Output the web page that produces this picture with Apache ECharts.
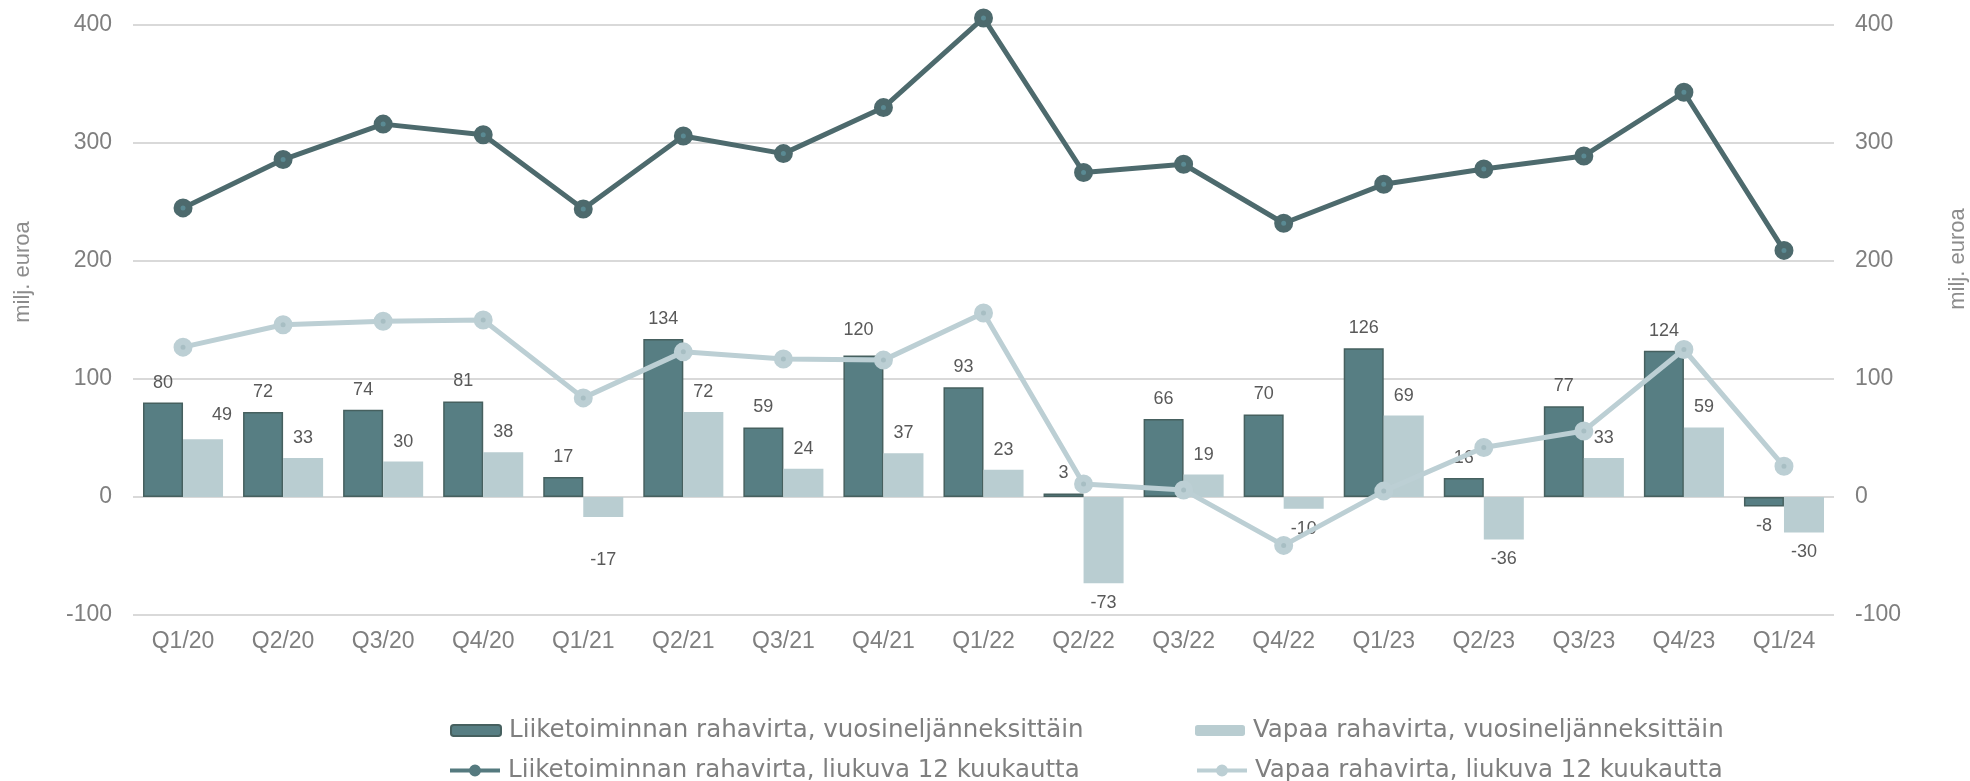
<!DOCTYPE html>
<html>
<head>
<meta charset="utf-8">
<title>Rahavirta</title>
<script src="https://cdn.jsdelivr.net/npm/echarts@6/dist/echarts.min.js"></script>
<style>
html, body { margin: 0; padding: 0; background: #fff; }
#chart { width: 1970px; height: 781px; }
</style>
</head>
<body>
<div id="chart"></div>
<script>
var categories = ['Q1/20', 'Q2/20', 'Q3/20', 'Q4/20', 'Q1/21', 'Q2/21', 'Q3/21', 'Q4/21', 'Q1/22',
  'Q2/22', 'Q3/22', 'Q4/22', 'Q1/23', 'Q2/23', 'Q3/23', 'Q4/23', 'Q1/24'];
var opQuarter = [80, 72, 74, 81, 17, 134, 59, 120, 93, 3, 66, 70, 126, 16, 77, 124, -8];
var freeQuarter = [49, 33, 30, 38, -17, 72, 24, 37, 23, -73, 19, -10, 69, -36, 33, 59, -30];
var opRolling = [245, 286, 316, 307, 244, 306, 291, 330, 406, 275, 282, 232, 265, 278, 289, 343, 209];
var freeRolling = [127, 146, 149, 150, 84, 123, 117, 116, 156, 11, 6, -41, 5, 42, 56, 125, 26];
var seriesNames = [
  'Liiketoiminnan rahavirta, vuosineljänneksittäin',
  'Vapaa rahavirta, vuosineljänneksittäin',
  'Liiketoiminnan rahavirta, liukuva 12 kuukautta',
  'Vapaa rahavirta, liukuva 12 kuukautta'
];
var axisName = 'milj. euroa';
var axisMin = -100, axisMax = 400, axisStep = 100;

var FONT = "'Liberation Sans', Arial, sans-serif";
var GREY = '#7f7f7f';
var DARK = '#4d6a6d', LIGHT = '#bccfd4';

// a few labels sit slightly off their default spot in the original
var labelNudge = {
  op: { 7: [-5, -5] },
  free: { 0: [19, -4], 4: [0, 23] }
};

function barData(values, nudge) {
  return values.map(function (v, i) {
    return {
      value: v,
      label: {
        position: v < 0 ? 'bottom' : 'top',
        offset: nudge[i] || [0, 0]
      }
    };
  });
}

var barLabel = {
  show: true,
  distance: 11,
  fontSize: 18,
  fontFamily: FONT,
  color: '#595959'
};

function legendAt(name, left, top, lineColor) {
  var lg = {
    data: [name],
    left: left,
    top: top,
    itemWidth: 50,
    itemHeight: 11,
    textStyle: {
      fontSize: 24.5, fontFamily: "'DejaVu Sans', sans-serif", color: GREY,
      padding: [0, 0, 0, 3], lineHeight: 24
    }
  };
  if (lineColor) {
    lg.lineStyle = { width: 4, color: lineColor };
    lg.itemStyle = { color: lineColor, borderColor: lineColor, borderWidth: 3 };
  }
  return lg;
}

var yAxisBase = {
  type: 'value',
  min: axisMin,
  max: axisMax,
  interval: axisStep,
  axisLine: { show: false },
  axisTick: { show: false },
  axisLabel: { fontSize: 23, fontFamily: FONT, color: GREY, margin: 21 }
};

var chart = echarts.init(document.getElementById('chart'));
chart.setOption({
  animation: false,
  grid: { left: 133, right: 136, top: 25, bottom: 166 },
  legend: [
    legendAt(seriesNames[0], 445, 713),
    legendAt(seriesNames[1], 1190, 713),
    legendAt(seriesNames[2], 443, 753, '#557a7f'),
    legendAt(seriesNames[3], 1190, 753, LIGHT)
  ],
  graphic: [
    {
      type: 'text', x: 23, y: 272, rotation: Math.PI / 2,
      style: { text: axisName, fontSize: 22, fontFamily: FONT, fill: '#8c8c8c', align: 'center', verticalAlign: 'middle' }
    },
    {
      type: 'text', x: 1958, y: 259, rotation: Math.PI / 2,
      style: { text: axisName, fontSize: 22, fontFamily: FONT, fill: '#8c8c8c', align: 'center', verticalAlign: 'middle' }
    }
  ],
  xAxis: {
    type: 'category',
    data: categories,
    axisLine: { show: false },
    axisTick: { show: false },
    axisLabel: { fontSize: 23, fontFamily: FONT, color: GREY, margin: 15 }
  },
  yAxis: [
    Object.assign({}, yAxisBase, {
      splitLine: { lineStyle: { color: '#d9d9d9', width: 2 } }
    }),
    Object.assign({}, yAxisBase, {
      splitLine: { show: false }
    })
  ],
  series: [
    {
      name: seriesNames[0],
      type: 'bar',
      data: barData(opQuarter, labelNudge.op),
      barGap: '0%',
      barCategoryGap: '20%',
      itemStyle: { color: '#577e83', borderColor: '#46605f', borderWidth: 1.5 },
      label: barLabel,
      z: 2
    },
    {
      name: seriesNames[1],
      type: 'bar',
      data: barData(freeQuarter, labelNudge.free),
      itemStyle: { color: '#b9cdd1' },
      label: barLabel,
      z: 2
    },
    {
      name: seriesNames[2],
      type: 'line',
      data: opRolling,
      clip: false,
      symbol: 'circle',
      symbolSize: 12,
      lineStyle: { color: DARK, width: 5 },
      itemStyle: { color: '#5a8a93', borderColor: DARK, borderWidth: 7 },
      z: 4
    },
    {
      name: seriesNames[3],
      type: 'line',
      data: freeRolling,
      clip: false,
      symbol: 'circle',
      symbolSize: 12,
      lineStyle: { color: LIGHT, width: 5 },
      itemStyle: { color: '#a7bec3', borderColor: LIGHT, borderWidth: 7 },
      z: 3
    }
  ]
});
</script>
</body>
</html>
